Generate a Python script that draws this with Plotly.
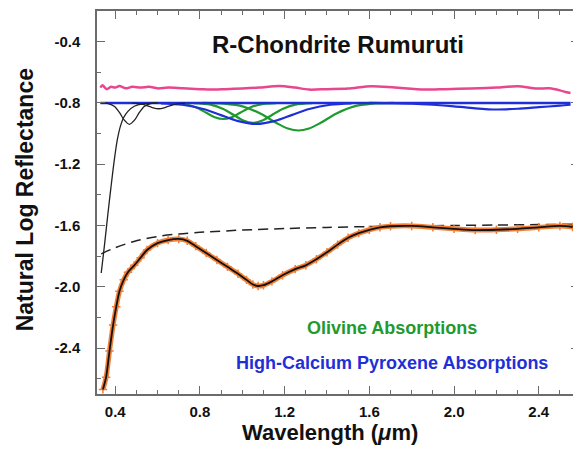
import plotly.graph_objects as go

# ---------------- data ----------------
# measured spectrum / modelled fit (natural log reflectance)
spec_x = [0.342, 0.357, 0.373, 0.39, 0.405, 0.42, 0.44, 0.46, 0.49, 0.52, 0.55, 0.6, 0.65, 0.7,
          0.74, 0.78, 0.83, 0.88, 0.93, 0.98, 1.02, 1.05, 1.075, 1.1, 1.14, 1.19, 1.25, 1.3, 1.35,
          1.4, 1.45, 1.5, 1.55, 1.6, 1.65, 1.7, 1.8, 1.9, 2.0, 2.1, 2.2, 2.3, 2.4, 2.5, 2.56]
spec_y = [-2.67, -2.59, -2.42, -2.25, -2.13, -2.03, -1.955, -1.905, -1.86, -1.81, -1.76, -1.715,
          -1.695, -1.688, -1.70, -1.735, -1.78, -1.825, -1.87, -1.915, -1.955, -1.985, -1.995,
          -1.99, -1.965, -1.925, -1.885, -1.86, -1.82, -1.775, -1.725, -1.68, -1.65, -1.628,
          -1.612, -1.605, -1.603, -1.612, -1.622, -1.63, -1.628, -1.622, -1.612, -1.603, -1.61]

# continuum (dashed)
cont_x = [0.334, 0.4, 0.5, 0.6, 0.7, 0.8, 1.0, 1.2, 1.4, 1.6, 1.8, 2.0, 2.2, 2.4, 2.56]
cont_y = [-1.785, -1.745, -1.70, -1.672, -1.655, -1.645, -1.63, -1.62, -1.613, -1.607,
          -1.603, -1.60, -1.597, -1.594, -1.592]

# residual (pink)
resid_x = [0.33, 0.34, 0.36, 0.38, 0.40, 0.42, 0.45, 0.48, 0.52, 0.56, 0.60, 0.65, 0.72, 0.80,
           0.85, 0.92, 1.0, 1.08, 1.175, 1.25, 1.315, 1.4, 1.5, 1.61, 1.72, 1.86, 1.96, 2.08,
           2.2, 2.3, 2.39, 2.45, 2.5, 2.53, 2.55]
resid_y = [-0.70, -0.685, -0.71, -0.695, -0.70, -0.69, -0.705, -0.695, -0.70, -0.695, -0.705,
           -0.70, -0.705, -0.71, -0.713, -0.71, -0.706, -0.70, -0.689, -0.70, -0.713, -0.71,
           -0.706, -0.691, -0.70, -0.713, -0.71, -0.706, -0.70, -0.691, -0.706, -0.705, -0.718,
           -0.73, -0.735]

# baseline
base_x = [0.33, 2.55]
base_y = [-0.80, -0.80]

# black (UV / visible) absorptions
uv_x = [0.334, 0.35, 0.365, 0.38, 0.395, 0.41, 0.425, 0.44, 0.46, 0.49, 0.53, 0.6]
uv_y = [-1.91, -1.72, -1.53, -1.35, -1.18, -1.04, -0.95, -0.895, -0.855, -0.822, -0.806, -0.80]
blk1_x = [0.33, 0.367, 0.397, 0.422, 0.442, 0.467, 0.492, 0.512, 0.537, 0.567, 0.60]
blk1_y = [-0.80, -0.804, -0.823, -0.867, -0.911, -0.94, -0.911, -0.867, -0.823, -0.804, -0.80]
blk2_x = [0.48, 0.525, 0.545, 0.575, 0.605, 0.635, 0.665, 0.685, 0.73]
blk2_y = [-0.801, -0.808, -0.816, -0.83, -0.838, -0.83, -0.816, -0.808, -0.801]

# olivine absorptions (green)
ol1_x = [0.66, 0.72, 0.78, 0.83, 0.87, 0.91, 0.95, 0.99, 1.04, 1.10, 1.16]
ol1_y = [-0.801, -0.806, -0.828, -0.864, -0.893, -0.905, -0.893, -0.864, -0.828, -0.806, -0.801]
ol2_x = [0.77, 0.85, 0.91, 0.96, 1.005, 1.05, 1.095, 1.14, 1.19, 1.25, 1.33]
ol2_y = [-0.801, -0.811, -0.839, -0.879, -0.915, -0.93, -0.915, -0.879, -0.839, -0.811, -0.801]
ol3_x = [0.815, 0.915, 1.005, 1.085, 1.165, 1.215, 1.265, 1.315, 1.365, 1.445, 1.525, 1.615, 1.715]
ol3_y = [-0.80, -0.805, -0.824, -0.869, -0.934, -0.967, -0.98, -0.967, -0.934, -0.869, -0.824,
         -0.805, -0.80]

# high-calcium pyroxene absorptions (blue)
hcp1_x = [0.616, 0.716, 0.816, 0.896, 0.976, 1.066, 1.156, 1.236, 1.316, 1.416, 1.516]
hcp1_y = [-0.803, -0.812, -0.840, -0.878, -0.917, -0.937, -0.917, -0.878, -0.840, -0.812, -0.803]
hcp2_x = [1.6, 1.8, 1.9, 2.0, 2.1, 2.2, 2.3, 2.4, 2.5, 2.55]
hcp2_y = [-0.80, -0.805, -0.812, -0.822, -0.835, -0.843, -0.838, -0.828, -0.818, -0.812]

x_ticks = [0.4, 0.8, 1.2, 1.6, 2.0, 2.4]
x_labels = ["0.4", "0.8", "1.2", "1.6", "2.0", "2.4"]
y_ticks = [-0.4, -0.8, -1.2, -1.6, -2.0, -2.4]
y_labels = ["-0.4", "-0.8", "-1.2", "-1.6", "-2.0", "-2.4"]

# ---------------- figure ----------------
GREEN = "#1f9a2e"
BLUE = "#1f2fd8"
PINK = "#e8468f"
ORANGE = "#f07f35"
FONT = "Liberation Sans, Arial, Helvetica, sans-serif"

# the page body has an 8px margin, so the figure is sized/placed to compensate
W, H = 573, 441
ML, MT, MB = 89, 3, 55
PW, PH = W - ML, H - MT - MB      # plot area size in px

fig = go.Figure()

def add_line(x, y, color, width, dash="solid"):
    fig.add_trace(go.Scatter(x=x, y=y, mode="lines", showlegend=False, hoverinfo="skip",
                             line=dict(color=color, width=width, dash=dash, shape="spline",
                                       smoothing=0.8)))

add_line(resid_x, resid_y, PINK, 2.5)
add_line(ol1_x, ol1_y, GREEN, 2.2)
add_line(ol2_x, ol2_y, GREEN, 2.2)
add_line(ol3_x, ol3_y, GREEN, 2.2)
add_line(hcp1_x, hcp1_y, BLUE, 2.2)
add_line(hcp2_x, hcp2_y, BLUE, 2.2)
add_line(base_x, base_y, BLUE, 2.5)
add_line(uv_x, uv_y, "#222222", 1.3)
add_line(blk1_x, blk1_y, "#222222", 1.3)
add_line(blk2_x, blk2_y, "#222222", 1.3)
add_line(cont_x, cont_y, "#222222", 1.5, dash="10px,6px")

# measured data (orange) and model (black)
fig.add_trace(go.Scatter(x=spec_x, y=spec_y, mode="lines+markers", showlegend=False,
                         hoverinfo="skip",
                         line=dict(color=ORANGE, width=5, shape="spline", smoothing=0.8),
                         marker=dict(symbol="cross-thin", size=6, color=ORANGE,
                                     line=dict(color=ORANGE, width=1.5))))
add_line(spec_x, spec_y, "#111111", 1.8)

axis_common = dict(showline=True, linecolor="#6b6b6b", linewidth=1.5, mirror="ticks",
                   ticks="inside", ticklen=8, tickwidth=1.2, tickcolor="#6b6b6b",
                   showgrid=False, zeroline=False,
                   tickfont=dict(family=FONT, size=15, color="#111111", weight="bold"))

fig.update_xaxes(range=[0.314, 2.59], tickvals=x_ticks, ticktext=x_labels,
                 minor=dict(dtick=0.1, tick0=0, ticks="inside", ticklen=4, tickcolor="#6b6b6b",
                            tickwidth=1.2),
                 ticklabelstandoff=3, **axis_common)
fig.update_yaxes(range=[-2.7, -0.2], tickvals=y_ticks, ticktext=y_labels,
                 minor=dict(dtick=0.2, tick0=0, ticks="inside", ticklen=4, tickcolor="#6b6b6b",
                            tickwidth=1.2),
                 ticklabelstandoff=12, **axis_common)

# positions below are given in reference-image pixels, converted to paper fractions
def px(xp):
    return (xp - 8 - ML) / PW

def py(yp):
    return (H - MB - (yp - 8)) / PH

annots = [
    dict(text="R-Chondrite Rumuruti", x=1.452, y=-0.417, xref="x", yref="y",
         font=dict(family=FONT, size=24, color="#111111", weight="bold")),
    dict(text="Olivine Absorptions", x=1.707, y=-2.27, xref="x", yref="y",
         font=dict(family=FONT, size=18, color=GREEN, weight="bold")),
    dict(text="High-Calcium Pyroxene Absorptions", x=1.707, y=-2.50, xref="x", yref="y",
         font=dict(family=FONT, size=18, color=BLUE, weight="bold")),
    dict(text="Wavelength (<i>μ</i>m)", x=px(331), y=py(432), xref="paper", yref="paper",
         font=dict(family=FONT, size=22, color="#111111", weight="bold")),
    dict(text="Natural Log Reflectance", x=px(25), y=py(200), xref="paper", yref="paper",
         textangle=-90,
         font=dict(family=FONT, size=23, color="#111111", weight="bold")),
]
for a in annots:
    fig.add_annotation(showarrow=False, xanchor="center", yanchor="middle", **a)

fig.update_layout(width=W, height=H, margin=dict(l=ML, r=0, t=MT, b=MB),
                  plot_bgcolor="white", paper_bgcolor="white")

fig.write_html("out.html")
